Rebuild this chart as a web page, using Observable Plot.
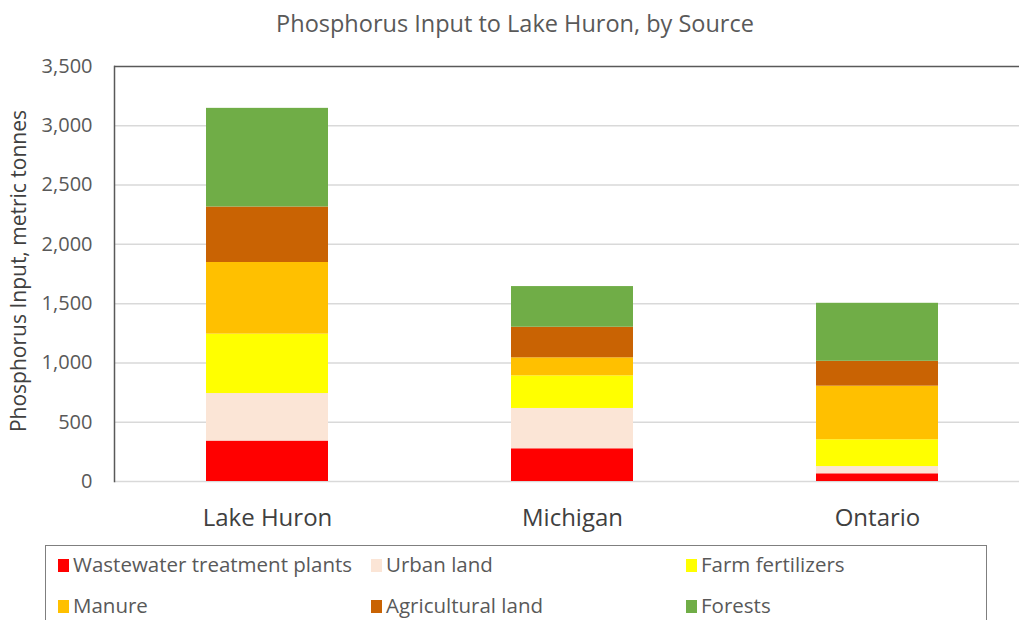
<!DOCTYPE html>
<html>
<head>
<meta charset="utf-8">
<script src="https://cdn.jsdelivr.net/npm/d3@7"></script>
<script src="https://cdn.jsdelivr.net/npm/@observablehq/plot@0.6"></script>
<style>
  html, body { margin: 0; padding: 0; background: #fff; }
  body { width: 1019px; height: 620px; overflow: hidden; position: relative; font-family: "Open Sans", sans-serif; }
  #title { position: absolute; left: 0; top: 8px; width: 1030px; text-align: center; font-size: 23.5px; line-height: 30px; color: #595959; }
  #chart { position: absolute; left: 0; top: 50px; }
  #legend { position: absolute; left: 45px; top: 545px; width: 942px; height: 100px; border: 1px solid #7f7f7f; box-sizing: border-box; }
  .item { position: absolute; font-size: 20.5px; color: #595959; white-space: nowrap; line-height: 22px; }
  .sw { display: inline-block; width: 11px; height: 13px; margin-right: 4px; vertical-align: 0px; }
</style>
</head>
<body>
<div id="title">Phosphorus Input to Lake Huron, by Source</div>
<div id="chart"></div>
<div id="legend"></div>
<script>
// ---- data ----
const regions = ["Lake Huron", "Michigan", "Ontario"];
const sources = ["Wastewater treatment plants", "Urban land", "Farm fertilizers", "Manure", "Agricultural land", "Forests"];
const lakeHuron = [341, 401, 501, 604, 468, 832];
const michigan = [276, 340, 275, 152, 258, 343];
const ontario = [65, 61, 226, 452, 210, 489];
const colors = ["#ff0000", "#fbe5d6", "#ffff00", "#ffc000", "#c96303", "#70ad47"];
const yTicks = [0, 500, 1000, 1500, 2000, 2500, 3000, 3500];
const yLabel = "Phosphorus Input, metric tonnes";

const seriesByRegion = [lakeHuron, michigan, ontario];
const rows = regions.flatMap((r, i) => sources.map((s, j) => ({region: r, source: s, value: seriesByRegion[i][j]})));

const chart = Plot.plot({
  width: 1019,
  height: 495,
  marginLeft: 114,
  marginRight: -10,
  marginTop: 16,
  marginBottom: 64,
  style: {fontFamily: "Open Sans, sans-serif", background: "transparent", overflow: "visible"},
  x: {domain: regions, paddingInner: 0.6, paddingOuter: 0.3, label: null},
  y: {domain: [0, 3500], label: null},
  color: {domain: sources, range: colors},
  marks: [
    Plot.ruleY(yTicks.filter(d => d < 3500), {stroke: "#d9d9d9", strokeWidth: 1.5}),
    Plot.barY(rows, {x: "region", y: "value", fill: "source"}),
    Plot.ruleY([3500], {stroke: "#595959", strokeWidth: 1.5}),
    Plot.axisY({ticks: yTicks, tickFormat: d3.format(","), tickSize: 0, tickPadding: 22, fontSize: 20, color: "#595959", label: null}),
    Plot.axisX({tickSize: 0, tickPadding: 27, fontSize: 24, color: "#404040", label: null}),
    Plot.text([yLabel], {frameAnchor: "left", dx: -95, dy: -3, rotate: -90, textAnchor: "middle", fontSize: 21, fill: "#404040", text: d => d}),
    Plot.frame({anchor: "left", stroke: "#595959", strokeWidth: 1.5})
  ]
});
document.getElementById("chart").appendChild(chart);

// ---- legend ----
const legendCols = [12, 325, 640];
const legendRows = [7, 48];
const legend = document.getElementById("legend");
sources.forEach((s, i) => {
  const d = document.createElement("div");
  d.className = "item";
  d.style.left = legendCols[i % 3] + "px";
  d.style.top = legendRows[Math.floor(i / 3)] + "px";
  d.innerHTML = `<span class="sw" style="background:${colors[i]}"></span>${s}`;
  legend.appendChild(d);
});
</script>
</body>
</html>
